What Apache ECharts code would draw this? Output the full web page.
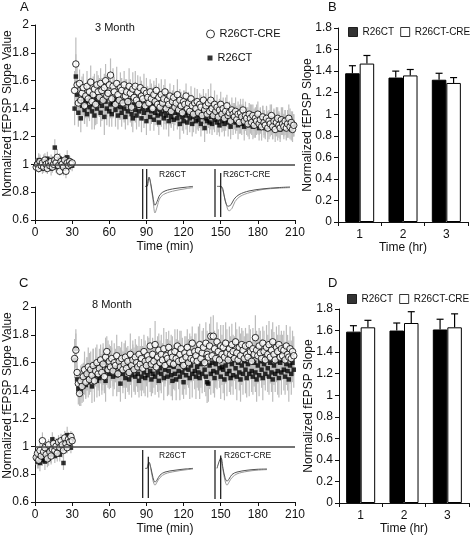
<!DOCTYPE html>
<html><head><meta charset="utf-8">
<script src="https://cdn.jsdelivr.net/npm/echarts@6/dist/echarts.min.js"></script>
<style>html,body{margin:0;padding:0;background:#fff}#c{width:472px;height:539px}</style>
</head><body><div id="c"></div>
<script>
const FONT = "'Liberation Sans', Arial, Helvetica, sans-serif";

// ---------- sampling grid (minutes) ----------
const baseStart = 1;   // first baseline minute
const postStart = 32;  // first post-tetanus minute

// ---------- Panel A : 3 Month (values; errors in hundredths) ----------
const a_cre_base = [0.98,1.00,0.97,1.02,0.99,1.01,0.98,1.03,1.00,0.97,
  1.01,0.99,1.02,0.98,1.00,1.03,1.01,1.05,0.99,0.95,
  1.02,1.00,0.98,1.03,0.95,1.01,0.99,1.02,1.00,1.01];
const a_ct_base = [1.00,0.98,1.03,0.99,1.01,0.97,1.02,1.00,0.98,1.04,
  0.99,1.01,0.97,1.03,1.00,1.12,0.98,1.02,1.00,1.04,
  0.99,1.01,0.97,1.03,1.00,1.05,0.98,1.02,1.00,0.99];
const a_cre_post = [1.53,1.72,1.57,1.44,1.58,1.46,1.51,1.55,1.42,1.49,
  1.56,1.47,1.52,1.59,1.45,1.50,1.54,1.43,1.57,1.52,
  1.48,1.58,1.53,1.46,1.55,1.60,1.49,1.51,1.57,1.64,
  1.47,1.56,1.52,1.43,1.58,1.50,1.46,1.55,1.53,1.44,
  1.57,1.49,1.52,1.45,1.56,1.51,1.41,1.54,1.48,1.56,
  1.46,1.52,1.43,1.55,1.49,1.47,1.53,1.42,1.51,1.48,
  1.44,1.52,1.47,1.40,1.50,1.45,1.53,1.43,1.48,1.41,
  1.50,1.44,1.47,1.52,1.40,1.46,1.43,1.49,1.38,1.45,
  1.48,1.41,1.44,1.50,1.39,1.46,1.42,1.37,1.45,1.43,
  1.49,1.40,1.44,1.38,1.47,1.42,1.36,1.44,1.40,1.45,
  1.37,1.43,1.41,1.35,1.46,1.39,1.42,1.36,1.44,1.38,
  1.46,1.40,1.35,1.43,1.38,1.41,1.34,1.39,1.43,1.36,
  1.40,1.33,1.38,1.42,1.35,1.37,1.31,1.39,1.36,1.34,
  1.38,1.32,1.36,1.30,1.37,1.34,1.39,1.31,1.35,1.33,
  1.29,1.36,1.33,1.30,1.35,1.28,1.33,1.31,1.36,1.29,
  1.32,1.27,1.34,1.30,1.28,1.33,1.26,1.31,1.29,1.35,
  1.27,1.31,1.25,1.30,1.33,1.28,1.26,1.32,1.29,1.27,
  1.31,1.26,1.29,1.33,1.27,1.30,1.25,1.28];
const a_ct_post = [1.40,1.63,1.50,1.37,1.45,1.33,1.42,1.47,1.39,1.44,
  1.36,1.46,1.41,1.49,1.38,1.43,1.35,1.47,1.40,1.44,
  1.48,1.37,1.42,1.46,1.34,1.45,1.40,1.49,1.38,1.43,
  1.36,1.44,1.47,1.39,1.42,1.35,1.46,1.41,1.37,1.45,
  1.40,1.34,1.44,1.38,1.46,1.41,1.36,1.33,1.43,1.39,
  1.35,1.42,1.38,1.45,1.33,1.40,1.37,1.43,1.31,1.39,
  1.41,1.34,1.38,1.44,1.32,1.37,1.40,1.35,1.30,1.39,
  1.36,1.42,1.33,1.38,1.35,1.41,1.31,1.37,1.34,1.39,
  1.32,1.37,1.40,1.33,1.36,1.29,1.38,1.34,1.31,1.37,
  1.35,1.30,1.38,1.33,1.36,1.29,1.34,1.37,1.31,1.35,
  1.32,1.36,1.29,1.34,1.38,1.26,1.33,1.31,1.36,1.30,
  1.34,1.29,1.35,1.32,1.37,1.30,1.33,1.28,1.35,1.31,
  1.34,1.29,1.32,1.36,1.30,1.33,1.27,1.34,1.31,1.35,
  1.30,1.33,1.28,1.35,1.31,1.29,1.34,1.27,1.32,1.30,
  1.33,1.28,1.31,1.35,1.27,1.32,1.29,1.34,1.30,1.26,
  1.31,1.28,1.33,1.29,1.26,1.32,1.30,1.27,1.33,1.29,
  1.26,1.31,1.28,1.32,1.27,1.30,1.25,1.29,1.32,1.28,
  1.30,1.26,1.29,1.27,1.31,1.25,1.29,1.28];
const a_cre_base_err = [3,4,3,5,4,3,4,5,3,4,4,3,5,4,3,4,5,6,4,3,4,5,3,4,5,3,4,3,4,3];
const a_ct_base_err  = [4,3,5,4,3,4,5,3,4,5,3,4,5,3,4,6,4,3,5,4,3,4,5,3,4,5,3,4,3,4];
const a_cre_post_err = [14,19,13,11,10,9,12,10,13,9, 11,14,10,12,9,13,11,15,10,12,
  14,11,9,13,10,12,15,11,9,12, 10,13,11,9,12,10,14,11,9,12, 10,12,9,11,13,10,8,12,10,11,
  9,12,10,8,11,10,12,9,11,8, 10,9,11,8,10,12,9,8,10,9, 11,8,10,9,12,8,10,9,11,8,
  9,10,8,11,9,8,10,9,8,10, 9,11,8,10,9,8,10,11,8,9, 10,8,9,11,8,10,9,8,10,9,
  12,8,9,10,8,9,11,8,9,10, 8,9,10,8,9,8,10,9,8,9, 10,8,9,8,10,9,8,9,10,8,
  9,8,10,9,8,9,8,10,9,8, 9,10,8,9,8,9,10,8,9,8, 9,8,9,10,8,9,8,9,8,9, 8,9,8,10,9,8,9,8];
const a_ct_post_err = [12,16,12,10,11,10,9,12,10,11, 9,12,10,11,13,9,10,12,11,9,
  12,10,11,9,13,10,12,9,11,10, 9,11,10,12,9,10,11,9,10,12, 10,9,11,10,8,11,9,10,12,9,
  10,8,11,9,10,9,11,8,10,9, 8,10,9,11,8,9,10,8,9,11, 9,10,8,9,10,8,11,9,8,10,
  8,9,10,8,9,11,8,10,9,8, 10,9,8,10,8,9,11,8,9,10, 8,10,9,8,9,10,8,9,10,8,
  9,8,10,9,8,9,10,8,9,8, 10,9,8,9,10,8,9,8,10,9, 8,9,10,8,9,8,9,10,8,9,
  8,10,9,8,9,8,10,9,8,9, 9,8,9,10,8,9,8,9,10,8, 8,9,8,9,10,8,9,8,9,8, 9,8,10,8,9,8,9,8];

// ---------- Panel C : 8 Month ----------
const c_cre_base = [0.92,0.95,0.90,0.97,0.93,1.04,0.96,0.99,0.94,0.91,
  1.01,0.96,0.93,0.98,1.02,0.97,1.00,0.95,1.03,0.99,
  1.04,1.01,0.97,1.06,1.02,0.99,1.05,1.03,1.07,1.04];
const c_ct_base = [0.91,0.89,0.93,0.88,0.92,0.90,0.95,0.89,0.93,0.97,
  0.91,0.96,0.94,1.05,0.98,0.93,1.00,0.96,0.99,0.94,
  1.02,0.98,0.88,1.03,1.00,1.08,1.01,1.04,0.99,1.05];
const c_cre_post = [1.63,1.69,1.53,1.45,1.38,1.47,1.43,1.50,1.55,1.46,
  1.52,1.57,1.48,1.55,1.51,1.58,1.47,1.54,1.60,1.52,
  1.56,1.62,1.53,1.59,1.50,1.64,1.68,1.55,1.61,1.57,
  1.63,1.54,1.60,1.58,1.65,1.52,1.61,1.57,1.63,1.55,
  1.59,1.64,1.56,1.61,1.53,1.66,1.58,1.62,1.55,1.64,
  1.60,1.57,1.66,1.59,1.63,1.56,1.68,1.61,1.58,1.65,
  1.62,1.72,1.59,1.66,1.61,1.73,1.57,1.64,1.69,1.60,
  1.66,1.62,1.70,1.58,1.65,1.63,1.71,1.60,1.67,1.64,
  1.59,1.68,1.63,1.72,1.61,1.66,1.70,1.62,1.58,1.67,
  1.64,1.71,1.60,1.67,1.63,1.74,1.62,1.68,1.65,1.61,
  1.69,1.73,1.63,1.67,1.71,1.60,1.74,1.66,1.64,1.72,
  1.79,1.65,1.79,1.70,1.63,1.75,1.68,1.62,1.72,1.66,
  1.71,1.64,1.74,1.67,1.62,1.70,1.66,1.73,1.68,1.63,
  1.75,1.67,1.62,1.71,1.65,1.73,1.69,1.63,1.72,1.66,
  1.64,1.73,1.68,1.61,1.70,1.66,1.78,1.69,1.65,1.72,
  1.67,1.63,1.74,1.68,1.62,1.71,1.66,1.73,1.64,1.69,
  1.75,1.66,1.62,1.71,1.68,1.73,1.64,1.70,1.65,1.69,
  1.62,1.72,1.66,1.64,1.70,1.63,1.68,1.65];
const c_ct_post = [1.62,1.70,1.48,1.41,1.45,1.39,1.47,1.43,1.50,1.44,
  1.52,1.46,1.54,1.49,1.43,1.56,1.50,1.58,1.47,1.53,
  1.49,1.57,1.51,1.60,1.53,1.47,1.56,1.62,1.52,1.55,
  1.59,1.50,1.54,1.57,1.51,1.60,1.53,1.45,1.58,1.52,
  1.55,1.49,1.59,1.53,1.48,1.57,1.51,1.61,1.54,1.50,
  1.58,1.52,1.47,1.56,1.50,1.60,1.53,1.49,1.57,1.51,
  1.60,1.54,1.48,1.52,1.58,1.50,1.61,1.53,1.47,1.56,
  1.52,1.59,1.49,1.55,1.62,1.50,1.54,1.58,1.51,1.47,
  1.57,1.52,1.48,1.60,1.54,1.50,1.59,1.53,1.46,1.56,
  1.51,1.60,1.55,1.49,1.58,1.52,1.62,1.54,1.50,1.57,
  1.53,1.49,1.59,1.52,1.61,1.55,1.50,1.46,1.45,1.58,
  1.52,1.60,1.54,1.49,1.59,1.53,1.62,1.56,1.50,1.57,
  1.55,1.48,1.58,1.52,1.61,1.54,1.49,1.59,1.51,1.62,
  1.56,1.50,1.60,1.53,1.48,1.58,1.52,1.61,1.55,1.49,
  1.59,1.52,1.62,1.54,1.50,1.60,1.53,1.48,1.58,1.51,
  1.61,1.55,1.49,1.59,1.52,1.63,1.56,1.50,1.60,1.53,
  1.48,1.58,1.52,1.61,1.54,1.49,1.60,1.53,1.62,1.55,
  1.50,1.59,1.54,1.48,1.58,1.52,1.60,1.55];
const c_cre_base_err = [5,4,6,5,4,6,5,4,5,6,4,5,6,4,5,5,4,6,5,4,5,6,4,5,6,4,5,5,4,5];
const c_ct_base_err  = [4,5,4,6,5,4,5,6,4,5,5,4,6,5,4,5,6,4,5,5,4,6,5,4,5,6,4,5,4,5];
const c_cre_post_err = [14,12,11,10,9,11,12,10,13,11, 12,14,11,13,10,12,15,11,13,12,
  14,11,13,15,12,14,11,13,12,15, 13,11,14,12,15,13,11,14,12,13, 15,12,14,11,13,15,12,14,16,13,
  12,15,13,11,14,16,12,15,13,14, 16,13,15,12,14,17,13,15,12,16, 14,12,15,13,17,14,12,16,13,15,
  13,16,14,12,15,17,13,16,14,12, 15,13,17,14,16,12,15,13,16,14, 17,15,13,16,14,12,15,17,13,16,
  14,16,15,13,17,14,16,12,15,14, 16,13,15,17,14,16,13,15,12,16, 14,17,13,15,16,12,14,16,13,15,
  17,14,16,13,15,12,16,14,15,13, 16,14,12,15,13,16,14,17,13,15, 14,16,13,15,12,14,16,13,15,14,
  13,15,14,12,16,13,15,14];
const c_ct_post_err = [12,14,10,11,9,10,12,11,13,10, 12,11,13,10,12,14,11,13,12,11,
  13,12,14,11,13,15,12,14,11,13, 12,14,13,11,15,12,14,13,11,14, 13,15,12,14,11,13,16,12,14,13,
  15,13,12,16,14,12,15,13,14,16, 13,15,12,14,16,13,15,14,12,16, 14,13,16,12,15,14,17,13,15,14,
  16,12,15,14,13,17,14,16,12,15, 14,16,13,15,12,17,14,13,16,15, 13,15,17,14,12,16,14,15,13,17,
  15,13,16,14,17,12,15,14,16,13, 17,15,13,16,14,15,12,16,14,13, 15,17,14,13,16,14,15,13,17,14,
  12,16,14,15,13,17,14,16,13,15, 14,13,16,15,12,14,17,13,15,14, 16,14,13,15,17,14,12,16,14,15,
  13,15,14,16,13,15,14,13];

// ---------- Panels B and D : hourly means ----------
const hourCats = ['1', '2', '3'];
const b_ct = [1.38, 1.34, 1.32],  b_ct_err = [0.07, 0.06, 0.06];
const b_cre = [1.47, 1.36, 1.29], b_cre_err = [0.075, 0.055, 0.05];
const d_ct = [1.59, 1.60, 1.61],  d_ct_err = [0.055, 0.07, 0.095];
const d_cre = [1.63, 1.67, 1.63], d_cre_err = [0.065, 0.105, 0.125];

// ---------- Inset fEPSP traces ([time, amplitude]) ----------
const trA1_pre  = [[4,0],[6,0],[8,0.3],[10,0.05],[12,-0.35],[14,-0.62],[16,-0.5],[19,-0.27],[24,-0.15],[34,-0.07],[44,-0.03],[52,0]];
const trA1_post = [[6,0],[8,0.3],[10,0.0],[12,-0.45],[14,-0.87],[16,-0.68],[19,-0.38],[24,-0.24],[34,-0.14],[44,-0.08],[52,-0.04]];
const trA2_pre  = [[4,0],[8,0],[10,-0.1],[12,-0.45],[15,-0.65],[18,-0.6],[21,-0.42],[26,-0.27],[36,-0.15],[50,-0.08],[65,-0.04],[77,-0.02]];
const trA2_post = [[8,0],[10,-0.15],[13,-0.55],[16,-0.8],[19,-0.72],[22,-0.5],[27,-0.33],[37,-0.2],[50,-0.1],[65,-0.06],[77,-0.04]];
const trC1_pre  = [[4,0],[6,0],[8,0.2],[10,0.0],[12,-0.3],[14,-0.45],[16,-0.38],[19,-0.22],[24,-0.12],[34,-0.06],[44,-0.02],[52,0]];
const trC1_post = [[6,0],[8,0.2],[10,-0.05],[12,-0.4],[14,-0.55],[16,-0.45],[19,-0.3],[24,-0.18],[34,-0.1],[44,-0.05],[52,-0.02]];
const trC2_pre  = [[4,0],[8,0.35],[10,0.0],[12,-0.3],[14,-0.42],[16,-0.35],[19,-0.2],[24,-0.12],[34,-0.06],[44,-0.03],[54,-0.02]];
const trC2_post = [[8,0.35],[10,-0.05],[12,-0.4],[14,-0.55],[16,-0.45],[19,-0.3],[24,-0.18],[34,-0.1],[44,-0.06],[54,-0.04]];
// stimulus / scale marks in trace coordinates [time, top, bottom]
const marksA1 = [[1.7,0.57,-1.07],[5.7,0.57,-1.07]];
const marksA2 = [[2,0.57,-1.0],[7.7,0.44,-1.0]];
const marksC1 = [[1.7,0.6,-0.97],[7.3,0.38,-0.97]];
const marksC2 = [[2,0.6,-1.0],[7.7,0.42,-1.0]];

// ---------- helpers ----------
function pts(start, vals, errs) { return vals.map((v, i) => [start + i, v, errs[i] / 100]); }
function allPts(b, be, p, pe) { return pts(baseStart, b, be).concat(pts(postStart, p, pe)); }

const txt = { fontFamily: FONT, color: '#111', fontSize: 11 };
const axisLineS = { show: true, lineStyle: { color: '#111', width: 1 } };
const tickS = { show: true, length: 4, lineStyle: { color: '#111' } };

function errRender(params, api) {
  const x = api.value(0), y = api.value(1), e = api.value(2);
  const p1 = api.coord([x, y - e]), p2 = api.coord([x, y + e]);
  return { type: 'line', shape: { x1: p1[0], y1: p1[1], x2: p2[0], y2: p2[1] },
    style: { stroke: '#bcbcbc', lineWidth: 1.2 } };
}
function barErrRender(sign) {
  return function (params, api) {
    const c = api.value(0), v = api.value(1), e = api.value(2);
    const band = api.size([1, 0])[0];
    const off = sign * band * 0.335 / 2;
    const p1 = api.coord([c, v]), p2 = api.coord([c, v + e]);
    const x = p1[0] + off;
    return { type: 'group', children: [
      { type: 'line', shape: { x1: x, y1: p1[1], x2: x, y2: p2[1] }, style: { stroke: '#000', lineWidth: 1.2 } },
      { type: 'line', shape: { x1: x - 3.5, y1: p2[1], x2: x + 3.5, y2: p2[1] }, style: { stroke: '#000', lineWidth: 1.2 } }
    ] };
  };
}

function timeX(gi) {
  return { gridIndex: gi, type: 'value', min: 0, max: 210, interval: 30,
    name: 'Time (min)', nameLocation: 'middle', nameGap: 21, nameMoveOverlap: false,
    nameTextStyle: Object.assign({}, txt, { fontSize: 12 }),
    axisLine: axisLineS, axisTick: tickS, splitLine: { show: false },
    axisLabel: Object.assign({ margin: 7 }, txt, { fontSize: 12 }) };
}
function normY(gi) {
  return { gridIndex: gi, type: 'value', min: 0.6, max: 2, interval: 0.2,
    name: 'Normalized fEPSP Slope Value', nameLocation: 'middle', nameGap: 21, nameMoveOverlap: false,
    nameTextStyle: Object.assign({ padding: [0, 0, 0, 18] }, txt, { fontSize: 12 }),
    axisLine: axisLineS, axisTick: tickS, splitLine: { show: false },
    axisLabel: Object.assign({ margin: 6 }, txt, { fontSize: 12 }) };
}
function hourX(gi) {
  return { gridIndex: gi, type: 'category', data: hourCats,
    name: 'Time (hr)', nameLocation: 'middle', nameGap: 20, nameMoveOverlap: false,
    nameTextStyle: Object.assign({}, txt, { fontSize: 12 }),
    axisLine: axisLineS, axisTick: Object.assign({ alignWithLabel: false }, tickS), splitLine: { show: false },
    axisLabel: Object.assign({ margin: 7 }, txt, { fontSize: 12 }) };
}
function slopeY(gi) {
  return { gridIndex: gi, type: 'value', min: 0, max: 1.8, interval: 0.2,
    name: 'Normalized fEPSP Slope', nameLocation: 'middle', nameGap: 24, nameMoveOverlap: false,
    nameTextStyle: Object.assign({}, txt, { fontSize: 12 }),
    axisLine: axisLineS, axisTick: tickS, splitLine: { show: false },
    axisLabel: Object.assign({ margin: 6 }, txt, { fontSize: 12 }) };
}
function insetX(gi, max) { return { gridIndex: gi, type: 'value', min: 0, max: max, show: false }; }
function insetY(gi) { return { gridIndex: gi, type: 'value', min: -1.1, max: 0.7, show: false }; }

function scatterSeries(gi, ctPts, crePts) {
  return [
    { type: 'custom', xAxisIndex: gi, yAxisIndex: gi, renderItem: errRender, data: crePts, z: 1, silent: true },
    { type: 'custom', xAxisIndex: gi, yAxisIndex: gi, renderItem: errRender, data: ctPts, z: 1, silent: true },
    { name: 'R26CT', type: 'scatter', xAxisIndex: gi, yAxisIndex: gi, symbol: 'rect', symbolSize: 4.5,
      itemStyle: { color: '#000' }, data: ctPts.map(p => [p[0], p[1]]), z: 3,
      markLine: { silent: true, symbol: 'none', label: { show: false },
        lineStyle: { color: '#444', width: 1.5, type: 'solid' }, data: [{ yAxis: 1 }] } },
    { name: 'R26CT-CRE', type: 'scatter', xAxisIndex: gi, yAxisIndex: gi, symbol: 'circle', symbolSize: 6.5,
      itemStyle: { color: '#fff', borderColor: '#000', borderWidth: 1 }, data: crePts.map(p => [p[0], p[1]]), z: 4 }
  ];
}
function barSeries(gi, ct, ctE, cre, creE) {
  return [
    { name: 'R26CT', type: 'bar', xAxisIndex: gi, yAxisIndex: gi, data: ct, barWidth: '33.5%', barGap: '0%',
      itemStyle: { color: '#000', borderColor: '#000', borderWidth: 1 } },
    { name: 'R26CT-CRE', type: 'bar', xAxisIndex: gi, yAxisIndex: gi, data: cre, barWidth: '33.5%', barGap: '0%',
      itemStyle: { color: '#fff', borderColor: '#000', borderWidth: 1 } },
    { type: 'custom', xAxisIndex: gi, yAxisIndex: gi, renderItem: barErrRender(-1),
      data: ct.map((v, i) => [i, v, ctE[i]]), z: 5, silent: true },
    { type: 'custom', xAxisIndex: gi, yAxisIndex: gi, renderItem: barErrRender(1),
      data: cre.map((v, i) => [i, v, creE[i]]), z: 5, silent: true }
  ];
}
function insetSeries(gi, pre, post, marks) {
  const s = [
    { type: 'line', xAxisIndex: gi, yAxisIndex: gi, data: post, showSymbol: false, smooth: 0.35,
      lineStyle: { color: '#9a9a9a', width: 1 }, silent: true },
    { type: 'line', xAxisIndex: gi, yAxisIndex: gi, data: pre, showSymbol: false, smooth: 0.35,
      lineStyle: { color: '#555', width: 1 }, silent: true }
  ];
  marks.forEach(m => s.push({ type: 'line', xAxisIndex: gi, yAxisIndex: gi, data: [[m[0], m[1]], [m[0], m[2]]],
    showSymbol: false, lineStyle: { color: '#111', width: 1.2 }, silent: true }));
  return s;
}

const aCT = allPts(a_ct_base, a_ct_base_err, a_ct_post, a_ct_post_err);
const aCRE = allPts(a_cre_base, a_cre_base_err, a_cre_post, a_cre_post_err);
const cCT = allPts(c_ct_base, c_ct_base_err, c_ct_post, c_ct_post_err);
const cCRE = allPts(c_cre_base, c_cre_base_err, c_cre_post, c_cre_post_err);

const titleS = (text, left, top, size) => ({ text, left, top, padding: 0,
  textStyle: { fontFamily: FONT, fontSize: size, fontWeight: 'normal', color: '#111' } });
const gridS = (left, top, width, height) => ({ left, top, width, height, containLabel: false, outerBoundsMode: 'none' });
const barLegendData = [
  { name: 'R26CT', icon: 'rect', itemStyle: { color: '#000', borderColor: '#000', borderWidth: 1 } },
  { name: 'R26CT-CRE', icon: 'rect', itemStyle: { color: '#fff', borderColor: '#000', borderWidth: 1 } }];

const chart = echarts.init(document.getElementById('c'), null, { renderer: 'canvas' });
chart.setOption({
  animation: false,
  backgroundColor: '#fff',
  title: [
    titleS('A', 20, 1, 13), titleS('B', 328, 1, 13), titleS('C', 19, 277, 13), titleS('D', 328, 277, 13),
    titleS('3 Month', 95, 22, 11), titleS('8 Month', 92, 299, 11),
    titleS('R26CT', 159, 170, 8.5), titleS('R26CT-CRE', 223, 170, 8.5),
    titleS('R26CT', 159, 451, 8.5), titleS('R26CT-CRE', 224, 451, 8.5)
  ],
  legend: [
    { left: 206, top: 28.5, padding: 0, orient: 'vertical', itemWidth: 8, itemHeight: 8, itemTextGap: 11, selectedMode: false,
      textStyle: Object.assign({}, txt, { fontSize: 11 }),
      data: [{ name: 'R26CT-CRE', icon: 'circle', itemStyle: { color: '#fff', borderColor: '#000', borderWidth: 1 } }] },
    { left: 207.5, top: 52.5, padding: 0, orient: 'vertical', itemWidth: 5, itemHeight: 5, itemTextGap: 12.5, selectedMode: false,
      textStyle: Object.assign({}, txt, { fontSize: 11 }),
      data: [{ name: 'R26CT', icon: 'rect', itemStyle: { color: '#000' } }] },
    { left: 348, top: 27, width: 200, padding: 0, orient: 'horizontal', itemWidth: 9, itemHeight: 9, itemTextGap: 6, itemGap: 6,
      selectedMode: false, textStyle: Object.assign({}, txt, { fontSize: 10 }), data: barLegendData },
    { left: 347, top: 294, width: 200, padding: 0, orient: 'horizontal', itemWidth: 9, itemHeight: 9, itemTextGap: 6, itemGap: 6,
      selectedMode: false, textStyle: Object.assign({}, txt, { fontSize: 10 }), data: barLegendData }
  ],
  grid: [
    gridS(35, 25, 260, 195),
    gridS(338, 28, 130, 194),
    gridS(35, 307, 260, 195),
    gridS(339, 309, 130, 194),
    gridS(141, 165, 52, 55),
    gridS(213, 165, 80, 55),
    gridS(141, 447, 52, 55),
    gridS(213, 447, 80, 55)
  ],
  xAxis: [timeX(0), hourX(1), timeX(2), hourX(3), insetX(4, 52), insetX(5, 80), insetX(6, 52), insetX(7, 80)],
  yAxis: [normY(0), slopeY(1), normY(2), slopeY(3), insetY(4), insetY(5), insetY(6), insetY(7)],
  series: [].concat(
    scatterSeries(0, aCT, aCRE),
    barSeries(1, b_ct, b_ct_err, b_cre, b_cre_err),
    scatterSeries(2, cCT, cCRE),
    barSeries(3, d_ct, d_ct_err, d_cre, d_cre_err),
    insetSeries(4, trA1_pre, trA1_post, marksA1),
    insetSeries(5, trA2_pre, trA2_post, marksA2),
    insetSeries(6, trC1_pre, trC1_post, marksC1),
    insetSeries(7, trC2_pre, trC2_post, marksC2)
  )
});
</script>
</body></html>
